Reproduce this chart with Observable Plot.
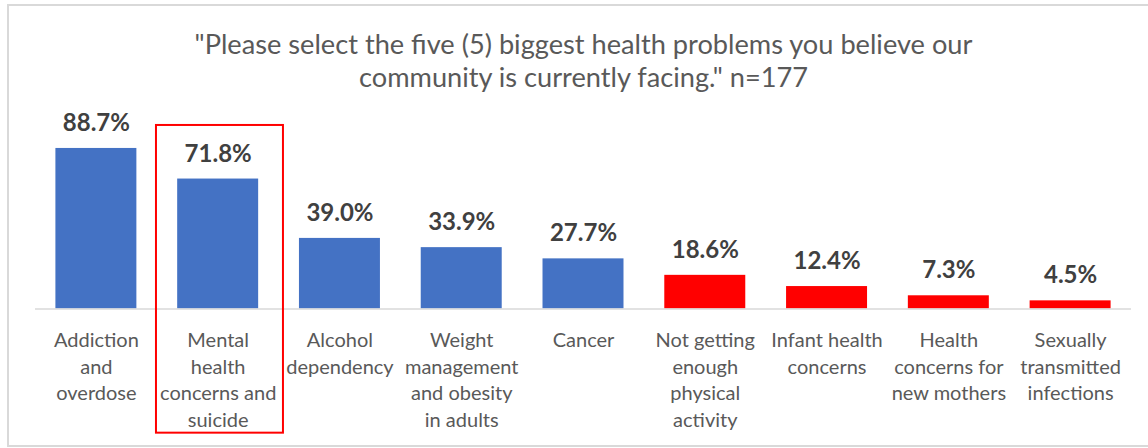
<!DOCTYPE html>
<html>
<head>
<meta charset="utf-8">
<script src="https://cdn.jsdelivr.net/npm/d3@7"></script>
<script src="https://cdn.jsdelivr.net/npm/@observablehq/plot@0.6"></script>
<style>
  html, body { margin: 0; padding: 0; background: #fff; }
  #wrap { position: relative; width: 1148px; height: 448px; overflow: hidden; }
  #frame { position: absolute; left: 7px; top: 4px; width: 1160px; height: 443px; border: 2px solid #d9d9d9; box-sizing: border-box; }
  #chart { position: absolute; left: 0; top: 0; }
</style>
</head>
<body>
<div id="wrap"><div id="frame"></div><div id="chart"></div></div>
<script>
const categories = [
  "Addiction\nand\noverdose",
  "Mental\nhealth\nconcerns and\nsuicide",
  "Alcohol\ndependency",
  "Weight\nmanagement\nand obesity\nin adults",
  "Cancer",
  "Not getting\nenough\nphysical\nactivity",
  "Infant health\nconcerns",
  "Health\nconcerns for\nnew mothers",
  "Sexually\ntransmitted\ninfections"
];
const values = [88.7, 71.8, 39.0, 33.9, 27.7, 18.6, 12.4, 7.3, 4.5];
const groups = ["top", "top", "top", "top", "top", "other", "other", "other", "other"];
const highlighted = ["Mental\nhealth\nconcerns and\nsuicide"];
const titleText = "\"Please select the five (5) biggest health problems you believe our\ncommunity is currently facing.\" n=177";

const data = categories.map((c, i) => ({category: c, value: values[i], group: groups[i]}));

const chart = Plot.plot({
  width: 1148,
  height: 448,
  marginLeft: 35,
  marginRight: 17,
  marginTop: 127.5,
  marginBottom: 139.5,
  style: {background: "transparent"},
  x: {domain: categories, paddingInner: 0.335, paddingOuter: 0.1675, round: false, axis: null},
  y: {domain: [0, 100], axis: null},
  color: {domain: ["top", "other"], range: ["#4472C4", "#FF0000"]},
  marks: [
    Plot.barY(data, {x: "category", y: "value", fill: "group"}),
    Plot.ruleY([0], {stroke: "#d9d9d9", strokeWidth: 1.5}),
    Plot.text(data, {x: "category", y: "value", text: d => d.value.toFixed(1) + "%",
      lineAnchor: "bottom", dy: -17.5, fontSize: 24, fontWeight: "bold", fill: "#404040",
      fontFamily: "Lato"}),
    Plot.text(data, {x: "category", y: 0, text: "category", lineAnchor: "top",
      dy: 19, fontSize: 20, lineHeight: 1.335, fill: "#595959", fontFamily: "Lato"}),
    Plot.barY(highlighted, {x: d => d, y1: -68.6, y2: 101.4, fill: "none", stroke: "#FF0000",
      strokeWidth: 2, insetLeft: -21.2, insetRight: -24.8}),
    Plot.text([titleText], {frameAnchor: "top", text: d => d, lineAnchor: "bottom",
      dy: -40.8, fontSize: 27.2, lineHeight: 1.228, fill: "#595959", fontFamily: "Lato"})
  ]
});
document.getElementById("chart").appendChild(chart);
</script>
</body>
</html>
